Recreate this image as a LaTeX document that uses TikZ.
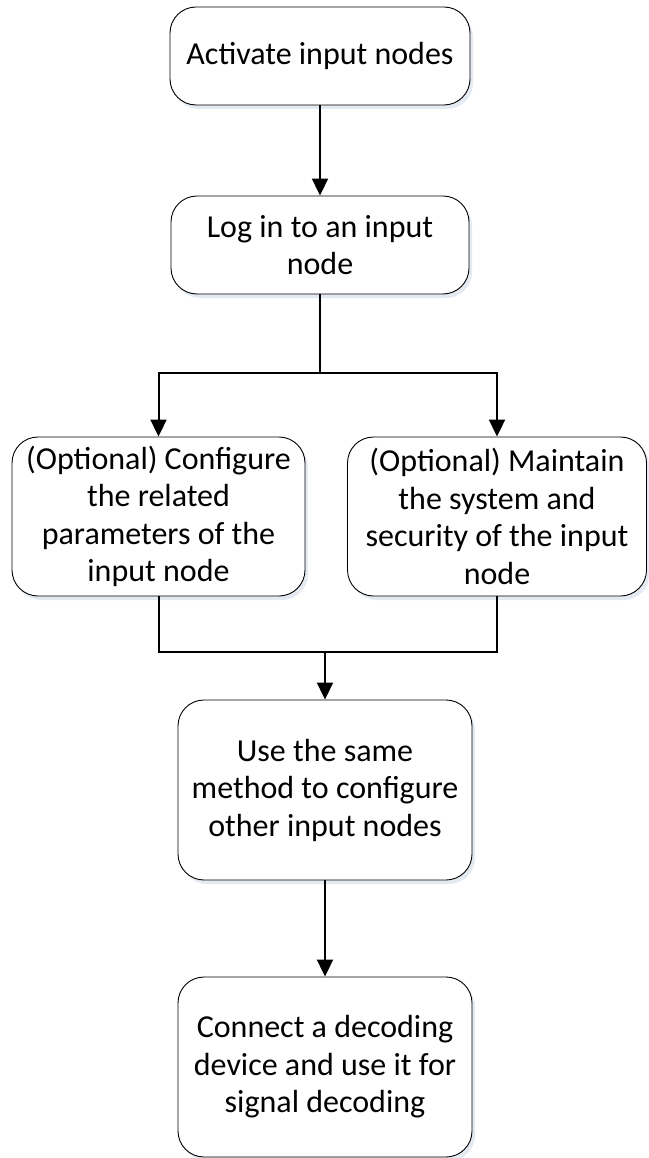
\documentclass[tikz,border=0pt]{standalone}
\usepackage{fontspec}
\setmainfont{Carlito}
\usetikzlibrary{arrows.meta,shadows}
\definecolor{shadowgray}{RGB}{228,234,242}
\begin{document}
\begin{tikzpicture}[x=1pt,y=-1pt,
  stepbox/.style={draw,line width=0.9pt,rounded corners=26pt,fill=white,align=center,inner sep=0pt,
    font=\fontsize{32}{37.5}\selectfont,
    drop shadow={shadow xshift=3pt,shadow yshift=-4pt,fill=shadowgray,opacity=1}},
  flow/.style={line width=2pt,-{Triangle[length=17pt,width=16pt]}},
  link/.style={line width=2pt}]

\useasboundingbox (0,0) rectangle (648,1158);

\node[stepbox,minimum width=300pt,minimum height=98pt] (activate) at (320,56) {Activate input nodes};
\node[stepbox,minimum width=298pt,minimum height=98pt] (login) at (320,245) {Log in to an input\\node};

\node[stepbox,minimum width=293pt,minimum height=159pt] (config) at (158.5,516.5)
  {(Optional) Configure\\the related\\parameters of the\\input node};
\node[stepbox,minimum width=299pt,minimum height=159pt] (maintain) at (497,516.5)
  {(Optional) Maintain\\the system and\\security of the input\\node};

\node[stepbox,minimum width=294pt,minimum height=180pt] (same) at (325,790)
  {Use the same\\method to configure\\other input nodes};
\node[stepbox,minimum width=294pt,minimum height=180pt] (decode) at (325,1067)
  {Connect a decoding\\device and use it for\\signal decoding};

\draw[flow] (activate.south) -- (login.north);

\draw[link] (login.south) -- ++(0,79) coordinate (split);
\draw[flow] (split) -| (config.north);
\draw[flow] (split) -| (maintain.north);

\coordinate (join) at (325,652);
\draw[link] (config.south) |- (join) -| (maintain.south);
\draw[flow] (join) -- (same.north);

\draw[flow] (same.south) -- (decode.north);

\end{tikzpicture}
\end{document}
